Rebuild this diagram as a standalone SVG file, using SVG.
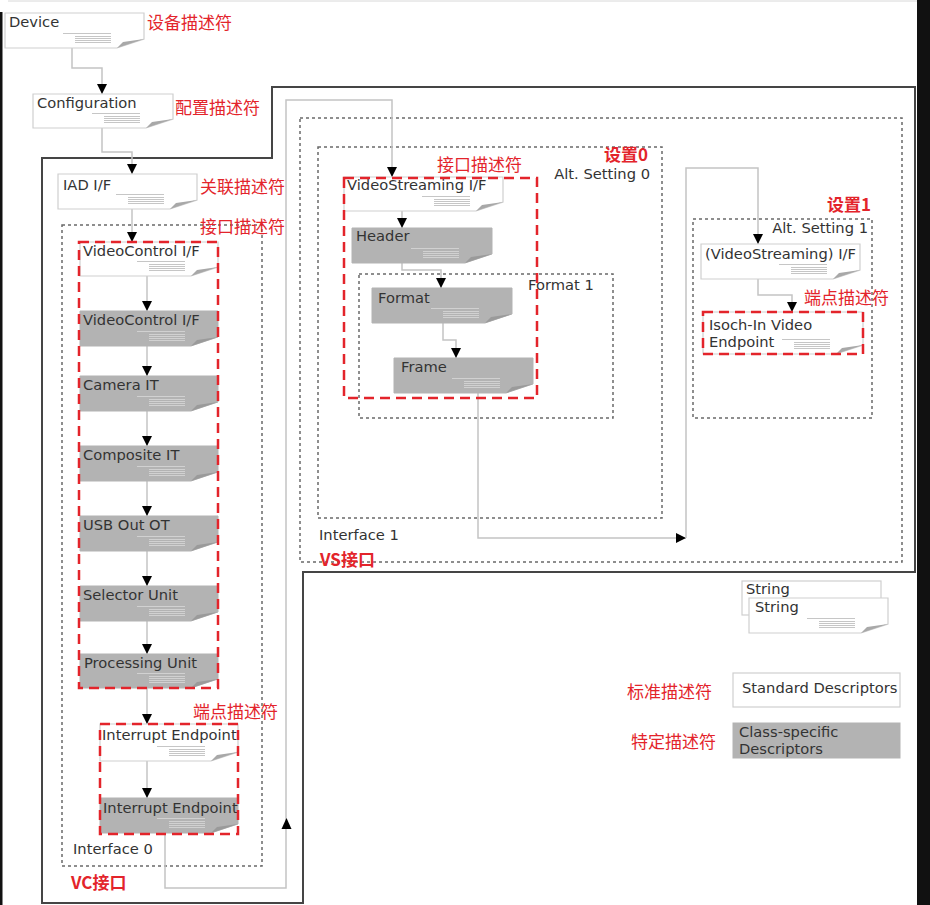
<svg xmlns="http://www.w3.org/2000/svg" xmlns:xlink="http://www.w3.org/1999/xlink" width="930" height="905" viewBox="0 0 930 905">
<style>
.bg{fill:#ffffff}
.t{font-family:"DejaVu Sans","Verdana",sans-serif;font-size:14.7px;fill:#333}
.cn{font-family:"Noto Sans CJK SC","Noto Sans",sans-serif;font-size:17px;fill:#e3242b}
.cb{font-family:"Noto Sans CJK SC","Noto Sans",sans-serif;font-size:17px;font-weight:bold;fill:#e3242b}
.dw{fill:#ffffff;stroke:#cfcfcf;stroke-width:1.2}
.dg{fill:#b3b3b3;stroke:#b3b3b3;stroke-width:1}
.lw{stroke:#b8b8b8;stroke-width:0.8;fill:none}
.lg{stroke:#d8d8d8;stroke-width:0.8;fill:none}
.fw{fill:#a8a8a8}
.fg{fill:#9a9a9a}
.dot{fill:none;stroke:#6a6a6a;stroke-width:1.5;stroke-dasharray:3 3}
.red{fill:none;stroke:#e3242b;stroke-width:2.5;stroke-dasharray:10 6}
.con{fill:none;stroke:#c4c4c4;stroke-width:1.5}
.border{fill:none;stroke:#454545;stroke-width:2}
</style>
<defs>
<marker id="ah" viewBox="0 0 10 10" refX="10" refY="5" markerWidth="10" markerHeight="10" markerUnits="userSpaceOnUse" orient="auto">
<path d="M0,0 L10,5 L0,10 Z" fill="#000"/>
</marker>
<g id="decoW">
<path class="fw" d="M-27,0 L-21,-6 L0,-9 Z"/>
<path class="lw" d="M-81,-14.5 H-33 M-69,-11.5 H-33 M-69,-9.5 H-33 M-69,-7.5 H-33 M-69,-5.5 H-33"/>
</g>
<g id="decoG">
<path class="fg" d="M-27,0 L-21,-6 L0,-9 Z"/>
<path class="lg" d="M-81,-14.5 H-33 M-69,-11.5 H-33 M-69,-9.5 H-33 M-69,-7.5 H-33 M-69,-5.5 H-33"/>
</g>
</defs>
<rect class="bg" x="0" y="0" width="930" height="905"/>
<rect x="0" y="12" width="2.5" height="893" fill="#111"/>
<rect x="917" y="0" width="13" height="905" fill="#111"/>
<line x1="8" y1="1" x2="917" y2="1" stroke="#d8d8d8" stroke-width="1"/>

<g id="containers">
<path class="border" d="M42,903 V158 H272 V87 H915 V572 H303 V903 Z"/>
<rect class="dot" x="62" y="225" width="200" height="641"/>
<rect class="dot" x="300" y="118" width="602" height="444"/>
<rect class="dot" x="318" y="147" width="344" height="371"/>
<rect class="dot" x="359" y="274" width="254" height="144"/>
<rect class="dot" x="693" y="219" width="179" height="199"/>
</g>

<g id="connectors">
<path class="con" d="M72,48 V68 H102 V94" marker-end="url(#ah)"/>
<path class="con" d="M102,128 V152 H132 V174" marker-end="url(#ah)"/>
<path class="con" d="M132,209 V242" marker-end="url(#ah)"/>
<path class="con" d="M147,276 V311" marker-end="url(#ah)"/>
<path class="con" d="M147,346 V376" marker-end="url(#ah)"/>
<path class="con" d="M147,411 V446" marker-end="url(#ah)"/>
<path class="con" d="M147,481 V516" marker-end="url(#ah)"/>
<path class="con" d="M147,551 V586" marker-end="url(#ah)"/>
<path class="con" d="M147,621 V654" marker-end="url(#ah)"/>
<path class="con" d="M147,688 V724" marker-end="url(#ah)"/>
<path class="con" d="M147,761 V798" marker-end="url(#ah)"/>
<path class="con" d="M165,833 V888 H286 V100 H392 V177" marker-end="url(#ah)"/>
<path d="M286.5,818 L281.5,829 L291.5,829 Z" fill="#000"/>
<path class="con" d="M402,211 V228" marker-end="url(#ah)"/>
<path class="con" d="M402,263 V270 H441 V288" marker-end="url(#ah)"/>
<path class="con" d="M443,323 V340 H456 V358" marker-end="url(#ah)"/>
<path class="con" d="M478,393 V538 H686" marker-end="url(#ah)"/>
<path class="con" d="M686,538 V168 H758 V244" marker-end="url(#ah)"/>
<path class="con" d="M758,279 V295 H792 V312" marker-end="url(#ah)"/>
</g>

<g id="n-device">
<path class="dw" d="M5,13 H144 V39 L117,48 H5 Z"/>
<use xlink:href="#decoW" href="#decoW" transform="translate(144,48)"/>
<text class="t" x="9" y="27">Device</text>
</g>
<g id="n-config">
<path class="dw" d="M33,94 H173 V119 L146,128 H33 Z"/>
<use xlink:href="#decoW" href="#decoW" transform="translate(173,128)"/>
<text class="t" x="37" y="108">Configuration</text>
</g>
<g id="n-iad">
<path class="dw" d="M58,174 H197 V200 L170,209 H58 Z"/>
<use xlink:href="#decoW" href="#decoW" transform="translate(197,209)"/>
<text class="t" x="63" y="190">IAD I/F</text>
</g>
<g id="n-vc-if">
<path class="dw" d="M80,242 H218 V267 L191,276 H80 Z"/>
<use xlink:href="#decoW" href="#decoW" transform="translate(218,276)"/>
<text class="t" x="83" y="256">VideoControl I/F</text>
</g>
<g id="n-vc-cs">
<path class="dg" d="M80,311 H218 V337 L191,346 H80 Z"/>
<use xlink:href="#decoG" href="#decoG" transform="translate(218,346)"/>
<text class="t" x="83" y="325">VideoControl I/F</text>
</g>
<g id="n-camera">
<path class="dg" d="M80,376 H218 V402 L191,411 H80 Z"/>
<use xlink:href="#decoG" href="#decoG" transform="translate(218,411)"/>
<text class="t" x="83" y="390">Camera IT</text>
</g>
<g id="n-composite">
<path class="dg" d="M80,446 H218 V472 L191,481 H80 Z"/>
<use xlink:href="#decoG" href="#decoG" transform="translate(218,481)"/>
<text class="t" x="83" y="460">Composite IT</text>
</g>
<g id="n-usbout">
<path class="dg" d="M80,516 H218 V542 L191,551 H80 Z"/>
<use xlink:href="#decoG" href="#decoG" transform="translate(218,551)"/>
<text class="t" x="83" y="530">USB Out OT</text>
</g>
<g id="n-selector">
<path class="dg" d="M80,586 H218 V612 L191,621 H80 Z"/>
<use xlink:href="#decoG" href="#decoG" transform="translate(218,621)"/>
<text class="t" x="83" y="600">Selector Unit</text>
</g>
<g id="n-processing">
<path class="dg" d="M80,654 H218 V679 L191,688 H80 Z"/>
<use xlink:href="#decoG" href="#decoG" transform="translate(218,688)"/>
<text class="t" x="84" y="668">Processing Unit</text>
</g>
<g id="n-int-ep">
<path class="dw" d="M100,724 H238 V752 L211,761 H100 Z"/>
<use xlink:href="#decoW" href="#decoW" transform="translate(238,761)"/>
<text class="t" x="102" y="740">Interrupt Endpoint</text>
</g>
<g id="n-int-ep-cs">
<path class="dg" d="M100,798 H238 V824 L211,833 H100 Z"/>
<use xlink:href="#decoG" href="#decoG" transform="translate(238,833)"/>
<text class="t" x="103" y="813">Interrupt Endpoint</text>
</g>

<g id="n-vs-if">
<path class="dw" d="M344,177 H503 V202 L476,211 H344 Z"/>
<use xlink:href="#decoW" href="#decoW" transform="translate(503,211)"/>
<text class="t" x="347" y="190">VideoStreaming I/F</text>
</g>
<g id="n-header">
<path class="dg" d="M352,228 H492 V254 L465,263 H352 Z"/>
<use xlink:href="#decoG" href="#decoG" transform="translate(492,263)"/>
<text class="t" x="356" y="241">Header</text>
</g>
<g id="n-format">
<path class="dg" d="M372,288 H512 V314 L485,323 H372 Z"/>
<use xlink:href="#decoG" href="#decoG" transform="translate(512,323)"/>
<text class="t" x="378" y="303">Format</text>
</g>
<g id="n-frame">
<path class="dg" d="M394,358 H533 V384 L506,393 H394 Z"/>
<use xlink:href="#decoG" href="#decoG" transform="translate(533,393)"/>
<text class="t" x="401" y="372">Frame</text>
</g>
<g id="n-vs-if1">
<path class="dw" d="M701,244 H860 V270 L833,279 H701 Z"/>
<use xlink:href="#decoW" href="#decoW" transform="translate(860,279)"/>
<text class="t" x="705" y="259">(VideoStreaming) I/F</text>
</g>
<g id="n-isoch">
<path class="dw" d="M703,312 H863 V345 L836,354 H703 Z"/>
<use xlink:href="#decoW" href="#decoW" transform="translate(863,354)"/>
<text class="t" x="709" y="330">Isoch-In Video</text>
<text class="t" x="709" y="347">Endpoint</text>
</g>

<g id="n-string">
<rect class="dw" x="742" y="581" width="139" height="34"/>
<text class="t" x="746" y="594">String</text>
<path class="dw" d="M749,598 H888 V624 L861,633 H749 Z"/>
<use xlink:href="#decoW" href="#decoW" transform="translate(888,633)"/>
<text class="t" x="755" y="612">String</text>
</g>

<g id="legend-standard">
<rect class="dw" x="733" y="673" width="167" height="34"/>
<text class="t" x="742" y="693">Standard Descriptors</text>
</g>
<g id="legend-class">
<rect class="dg" x="733" y="723" width="167" height="35"/>
<text class="t" x="739" y="737">Class-specific</text>
<text class="t" x="739" y="754">Descriptors</text>
</g>

<g id="highlights">
<rect class="red" x="79" y="242" width="139" height="446"/>
<rect class="red" x="100" y="724" width="138" height="110"/>
<rect class="red" x="344" y="178" width="193" height="220"/>
<rect class="red" x="703" y="312" width="160" height="42"/>
</g>

<g id="labels">
<text class="t" x="650" y="179" text-anchor="end">Alt. Setting 0</text>
<text class="t" x="868" y="233" text-anchor="end">Alt. Setting 1</text>
<text class="t" x="528" y="290">Format 1</text>
<text class="t" x="319" y="540">Interface 1</text>
<text class="t" x="73" y="854">Interface 0</text>
<text class="cn" x="147" y="29">设备描述符</text>
<text class="cn" x="175" y="114">配置描述符</text>
<text class="cn" x="200" y="193">关联描述符</text>
<text class="cn" x="200" y="233">接口描述符</text>
<text class="cn" x="193" y="718">端点描述符</text>
<text class="cn" x="437" y="171">接口描述符</text>
<text class="cn" x="804" y="304">端点描述符</text>
<text class="cn" x="627" y="698">标准描述符</text>
<text class="cn" x="631" y="748">特定描述符</text>
<text class="cb" x="604" y="161">设置0</text>
<text class="cb" x="827" y="211">设置1</text>
<text class="cb" x="71" y="889">VC接口</text>
<text class="cb" x="320" y="566">VS接口</text>
</g>
</svg>
